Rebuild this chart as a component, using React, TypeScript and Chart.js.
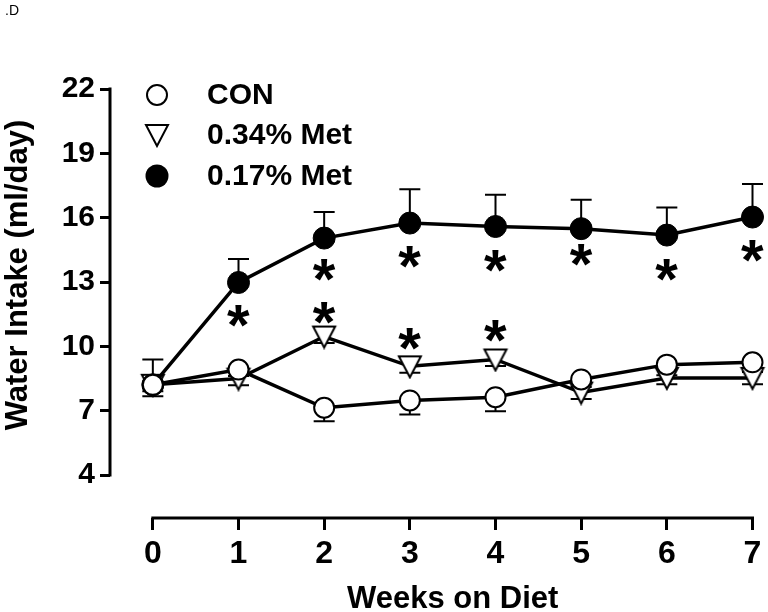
import React, { useEffect, useRef } from "react";
import { Chart, registerables } from "chart.js";

Chart.register(...registerables);

// ---------- data ----------
const weeks = [0, 1, 2, 3, 4, 5, 6, 7];
const conValues = [8.21, 8.92, 7.14, 7.48, 7.63, 8.46, 9.15, 9.26];
const conErrors = [0.53, 0.3, 0.63, 0.65, 0.65, 0.35, 0.5, 0.45];
const met034Values = [8.21, 8.5, 10.46, 9.07, 9.39, 7.85, 8.53, 8.53];
const met034Errors = [0.3, 0.31, 0.3, 0.3, 0.3, 0.3, 0.3, 0.3];
const met017Values = [8.21, 12.98, 15.05, 15.75, 15.59, 15.49, 15.19, 16.03];
const met017Errors = [1.18, 1.09, 1.21, 1.58, 1.48, 1.35, 1.29, 1.54];

const yTicks = [4, 7, 10, 13, 16, 19, 22];
const xTicks = [0, 1, 2, 3, 4, 5, 6, 7];

const legendLabels = ["CON", "0.34% Met", "0.17% Met"];

const starWeeks017 = [1, 2, 3, 4, 5, 6, 7];
const starValues017 = [11.4, 13.54, 14.17, 13.96, 14.27, 13.58, 14.47];
const starWeeks034 = [2, 3, 4];
const starValues034 = [11.56, 10.35, 10.7];

const xTitle = "Weeks on Diet";
const yTitle = "Water Intake (ml/day)";
const panelLabel = ".D";

const FONT = "'Liberation Sans', Arial, Helvetica, sans-serif";

function makeTriangle(): HTMLCanvasElement {
  const c = document.createElement("canvas");
  c.width = 28;
  c.height = 26;
  const g = c.getContext("2d")!;
  g.beginPath();
  g.moveTo(3, 3);
  g.lineTo(25, 3);
  g.lineTo(14, 24);
  g.closePath();
  g.fillStyle = "#fff";
  g.fill();
  g.lineWidth = 2;
  g.strokeStyle = "#000";
  g.lineJoin = "miter";
  g.stroke();
  return c;
}

export default function App() {
  const ref = useRef<HTMLCanvasElement>(null);

  useEffect(() => {
    const tri = makeTriangle();
    const toPts = (vals: number[]) => weeks.map((w, i) => ({ x: w, y: vals[i] }));

    const errorSets = [
      { values: conValues, errors: conErrors, dir: -1 },
      { values: met034Values, errors: met034Errors, dir: -1 },
      { values: met017Values, errors: met017Errors, dir: 1 },
    ];

    const decor = {
      id: "decor",
      beforeDatasetsDraw(chart: any) {
        const { ctx, chartArea } = chart;
        const xs = chart.scales.x;
        const ys = chart.scales.y;
        ctx.save();
        ctx.strokeStyle = "#000";
        ctx.lineWidth = 3;
        ctx.lineCap = "square";
        ctx.beginPath();
        ctx.moveTo(chartArea.left, ys.getPixelForValue(yTicks[0]));
        ctx.lineTo(chartArea.left, ys.getPixelForValue(yTicks[yTicks.length - 1]));
        ctx.moveTo(xs.getPixelForValue(xTicks[0]), chartArea.bottom);
        ctx.lineTo(xs.getPixelForValue(xTicks[xTicks.length - 1]), chartArea.bottom);
        ctx.stroke();

        // error bars
        ctx.lineWidth = 2;
        ctx.lineCap = "butt";
        errorSets.forEach((s) => {
          weeks.forEach((w, i) => {
            const px = xs.getPixelForValue(w);
            const py = ys.getPixelForValue(s.values[i]);
            const pe = ys.getPixelForValue(s.values[i] + s.dir * s.errors[i]);
            ctx.beginPath();
            ctx.moveTo(px, py);
            ctx.lineTo(px, pe);
            ctx.moveTo(px - 10.5, pe);
            ctx.lineTo(px + 10.5, pe);
            ctx.stroke();
          });
        });
        ctx.restore();
      },
      afterDatasetsDraw(chart: any) {
        const { ctx } = chart;
        const xs = chart.scales.x;
        const ys = chart.scales.y;
        ctx.save();
        ctx.fillStyle = "#000";

        // asterisks
        ctx.font = `bold 58px ${FONT}`;
        ctx.textAlign = "left";
        ctx.textBaseline = "alphabetic";
        const m = ctx.measureText("*");
        const drawStar = (cx: number, cy: number) => {
          const bx = cx - (m.actualBoundingBoxRight - m.actualBoundingBoxLeft) / 2;
          const by = cy + (m.actualBoundingBoxAscent - m.actualBoundingBoxDescent) / 2;
          ctx.fillText("*", bx, by);
        };
        starWeeks017.forEach((w, i) => drawStar(xs.getPixelForValue(w), ys.getPixelForValue(starValues017[i])));
        starWeeks034.forEach((w, i) => drawStar(xs.getPixelForValue(w), ys.getPixelForValue(starValues034[i])));

        // legend
        const lx = 157;
        const ly = [95, 135, 176];
        ctx.lineWidth = 2;
        ctx.strokeStyle = "#000";
        ctx.beginPath();
        ctx.arc(lx, ly[0], 10, 0, Math.PI * 2);
        ctx.fillStyle = "#fff";
        ctx.fill();
        ctx.stroke();
        ctx.drawImage(tri, lx - tri.width / 2, ly[1] - tri.height / 2);
        ctx.beginPath();
        ctx.arc(lx, ly[2], 11.5, 0, Math.PI * 2);
        ctx.fillStyle = "#000";
        ctx.fill();
        ctx.font = `bold 30px ${FONT}`;
        ctx.textBaseline = "middle";
        ctx.textAlign = "left";
        legendLabels.forEach((t, i) => ctx.fillText(t, 207, ly[i] + 1));

        // axis titles
        ctx.font = `bold 31px ${FONT}`;
        ctx.textAlign = "center";
        ctx.textBaseline = "alphabetic";
        const xc = (xs.getPixelForValue(xTicks[0]) + xs.getPixelForValue(xTicks[xTicks.length - 1])) / 2;
        ctx.fillText(xTitle, xc, 608);
        ctx.save();
        ctx.translate(27, 275);
        ctx.rotate(-Math.PI / 2);
        ctx.fillText(yTitle, 0, 0);
        ctx.restore();

        // panel label
        ctx.font = `14px ${FONT}`;
        ctx.textAlign = "left";
        ctx.fillText(panelLabel, 5, 15);
        ctx.restore();
      },
    };

    const chart = new Chart(ref.current!, {
      type: "line",
      data: {
        datasets: [
          {
            label: legendLabels[0],
            data: toPts(conValues),
            borderColor: "#000",
            borderWidth: 3.5,
            pointStyle: "circle",
            pointRadius: 10,
            pointBorderWidth: 2,
            pointBackgroundColor: "#fff",
            pointBorderColor: "#000",
            tension: 0,
            clip: false,
          },
          {
            label: legendLabels[2],
            data: toPts(met017Values),
            borderColor: "#000",
            borderWidth: 3.5,
            pointStyle: "circle",
            pointRadius: 11,
            pointBorderWidth: 1,
            pointBackgroundColor: "#000",
            pointBorderColor: "#000",
            tension: 0,
            clip: false,
          },
          {
            label: legendLabels[1],
            data: toPts(met034Values),
            borderColor: "#000",
            borderWidth: 3.5,
            pointStyle: tri as any,
            pointRadius: 12,
            tension: 0,
            clip: false,
          },
        ] as any,
      },
      options: {
        responsive: false,
        devicePixelRatio: 1,
        animation: false,
        events: [],
        layout: { padding: { top: 89, right: 14, left: 0, bottom: 0 } },
        plugins: { legend: { display: false }, tooltip: { enabled: false } },
        scales: {
          x: {
            type: "linear",
            min: -0.5,
            max: 7,
            afterBuildTicks: (s: any) => {
              s.ticks = xTicks.map((v) => ({ value: v }));
            },
            afterFit: (s: any) => {
              s.height = 94;
            },
            grid: { display: true, drawOnChartArea: false, drawTicks: true, tickLength: 12, lineWidth: 3, color: "#000" },
            border: { display: false },
            ticks: {
              autoSkip: false,
              maxRotation: 0,
              padding: 5,
              color: "#000",
              font: { family: FONT, size: 32, weight: "bold" },
            },
          },
          y: {
            type: "linear",
            min: 2,
            max: 22,
            afterBuildTicks: (s: any) => {
              s.ticks = yTicks.map((v) => ({ value: v }));
            },
            afterFit: (s: any) => {
              s.width = 110;
            },
            grid: { display: true, drawOnChartArea: false, drawTicks: true, tickLength: 10, lineWidth: 3, color: "#000" },
            border: { display: false },
            ticks: {
              padding: 5,
              color: "#000",
              font: { family: FONT, size: 30, weight: "bold" },
            },
          },
        },
      } as any,
      plugins: [decor],
    });
    return () => chart.destroy();
  }, []);

  return (
    <div style={{ position: "absolute", left: 0, top: 0, width: 768, height: 612, background: "#fff" }}>
      <canvas ref={ref} width={768} height={612} style={{ display: "block" }} />
    </div>
  );
}
